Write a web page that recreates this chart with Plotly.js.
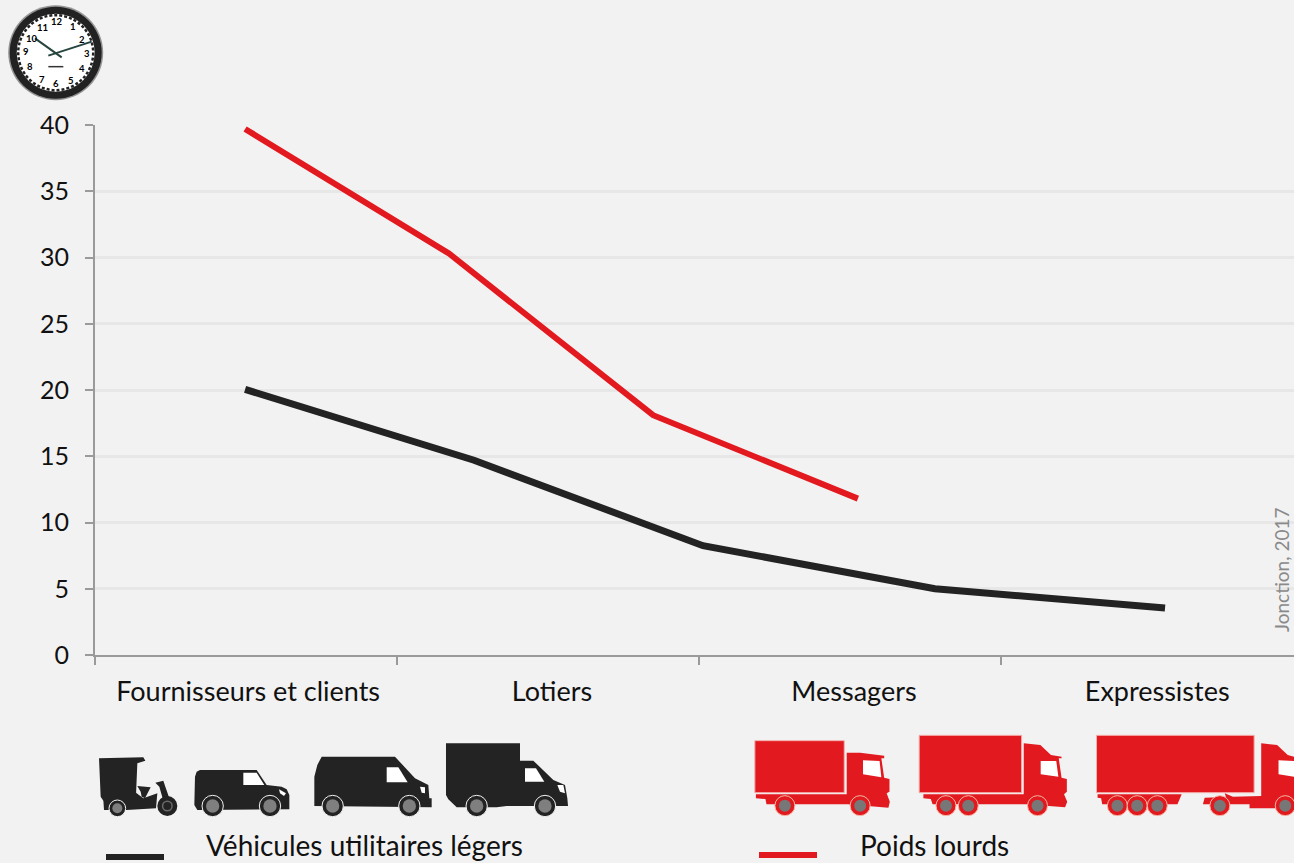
<!DOCTYPE html>
<html><head><meta charset="utf-8">
<script src="https://cdn.plot.ly/plotly-3.0.1.min.js"></script>
<style>html,body{margin:0;padding:0;background:#f2f2f2;overflow:hidden}#c{width:1294px;height:863px}</style>
</head><body><div id="c"></div>
<script>
// ---- data ----
const categories = ["Fournisseurs et clients", "Lotiers", "Messagers", "Expressistes"];
const categoryCentres = [0.507, 1.513, 2.513, 3.517];
const categoryBounds = [0, 1, 2, 3, 4];
const yTicks = [0, 5, 10, 15, 20, 25, 30, 35, 40];
const vulX = [0.497, 1.255, 2.013, 2.781, 3.543];
const vulY = [20.05, 14.7, 8.25, 5.0, 3.55];
const plX = [0.497, 1.172, 1.848, 2.526];
const plY = [39.7, 30.3, 18.1, 11.8];
const vulName = "Véhicules utilitaires légers";
const plName = "Poids lourds";
const sourceText = "Jonction, 2017";

// ---- page geometry helpers for decorative pictograms ----
const L = 95, R = 1294, T = 125, B = 655;
const px = x => (x - L) / (R - L);
const py = y => (B - y) / (B - T);
const BLACK = "#232323", RED = "#e2191f", BG = "#f2f2f2";
const shapes = [];
function poly(pts, ox, oy, sx, sy, fill, line) {
  const d = pts.map((p, i) => (i ? "L" : "M") + px(ox + p[0] / sx).toFixed(5) + "," + py(oy + p[1] / sy).toFixed(5)).join(" ") + " Z";
  shapes.push({type: "path", xref: "paper", yref: "paper", path: d, fillcolor: fill, line: line || {width: 0}, layer: "above"});
}
function circ(cx, cy, r, fill, line) {
  shapes.push({type: "circle", xref: "paper", yref: "paper", x0: px(cx - r), x1: px(cx + r), y0: py(cy + r), y1: py(cy - r), fillcolor: fill, line: line || {width: 0}, layer: "above"});
}
function seg(x0, y0, x1, y1, color, width) {
  shapes.push({type: "line", xref: "paper", yref: "paper", x0: px(x0), x1: px(x1), y0: py(y0), y1: py(y1), line: {color, width}, layer: "above"});
}

// light commercial vehicles
const o = [80, 730, 3, 3];
function bw(x, y, r1, r2) {
  circ(80 + x / 3, 730 + y / 3, r1 / 3, BLACK, {width: 1, color: BG});
  circ(80 + x / 3, 730 + y / 3, r2 / 3, "#7f7f7f");
}
poly([[57,85],[190,82],[196,92],[172,100],[168,195],[70,212],[62,200]], ...o, BLACK);
poly([[70,210],[168,188],[190,205],[232,190],[228,235],[140,240],[72,240]], ...o, BLACK);
poly([[172,168],[212,172],[205,185],[195,205],[185,200],[182,185]], ...o, BLACK);
poly([[226,158],[250,152],[256,170],[268,205],[250,212],[238,170]], ...o, BLACK);
bw(112, 235, 25, 15);
circ(80 + 262 / 3, 730 + 228 / 3, 10, BLACK);
circ(80 + 262 / 3, 730 + 228 / 3, 5.5, "#6a6a6a");
circ(80 + 262 / 3, 730 + 228 / 3, 4, BLACK);
poly([[345,140],[350,125],[360,120],[530,120],[560,165],[605,170],[620,178],[628,195],[628,238],[352,240],[343,225]], ...o, BLACK);
poly([[490,128],[530,128],[553,165],[490,165]], ...o, "#fff");
poly([[597,178],[618,190],[612,198],[600,190]], ...o, "#fff");
bw(398, 228, 32, 20); bw(570, 228, 32, 20);
poly([[703,140],[712,105],[725,80],[945,80],[1005,145],[1045,165],[1048,205],[1055,205],[1055,232],[703,228]], ...o, BLACK);
poly([[920,112],[955,112],[983,157],[920,157]], ...o, "#fff");
poly([[1020,170],[1035,172],[1035,190],[1025,188]], ...o, "#fff");
bw(758, 228, 32, 20); bw(988, 228, 32, 20);
poly([[1098,40],[1320,40],[1320,92],[1360,92],[1420,150],[1455,165],[1462,205],[1464,228],[1280,228],[1250,232],[1130,232],[1105,208],[1098,195]], ...o, BLACK);
poly([[1335,115],[1368,115],[1393,155],[1335,155]], ...o, "#fff");
poly([[1432,165],[1450,165],[1455,190],[1440,185]], ...o, "#fff");
bw(1190, 228, 32, 20); bw(1395, 228, 32, 20);

// heavy goods vehicles
const r = [740, 725, 2.83, 3];
const edge = {width: 1, color: "#f4b0ac"};
function rw(x) {
  const cx = 740 + x / 2.83, cy = 725 + 242 / 3;
  circ(cx, cy, 10, RED, {width: 1, color: "#f6b9a6"});
  circ(cx, cy, 6, "#777");
}
poly([[42,47],[295,47],[295,203],[42,203]], ...r, RED, edge);
poly([[302,83],[340,83],[408,92],[408,100],[400,100],[408,158],[423,162],[423,200],[415,205],[424,230],[420,248],[305,238],[75,238],[72,222],[45,220],[45,208],[302,208]], ...r, RED);
poly([[348,106],[395,108],[400,157],[348,148]], ...r, "#fff");
rw(127); rw(340);
poly([[507,31],[797,31],[797,203],[507,203]], ...r, RED, edge);
poly([[803,55],[850,60],[880,90],[910,95],[910,100],[902,100],[910,158],[925,162],[925,200],[917,208],[926,230],[920,247],[810,238],[545,238],[540,222],[519,220],[519,208],[803,208]], ...r, RED);
poly([[851,108],[895,108],[901,155],[851,148]], ...r, "#fff");
rw(583); rw(646); rw(842);
poly([[1009,31],[1455,31],[1455,203],[1009,203]], ...r, RED, edge);
poly([[1012,208],[1250,208],[1238,238],[1025,238],[1022,220],[1012,218]], ...r, RED);
poly([[1475,55],[1520,60],[1550,90],[1568,95],[1568,250],[1442,250],[1442,238],[1310,238],[1315,218],[1375,216],[1372,205],[1395,215],[1475,213]], ...r, RED);
poly([[1524,106],[1568,108],[1568,155],[1524,148]], ...r, "#fff");
rw(1068); rw(1124); rw(1181); rw(1358); rw(1543);

// legend keys
seg(106, 857, 164, 857, BLACK, 6);
seg(759, 855, 817, 855, RED, 6);

// clock
const ccx = 55.7, ccy = 52.7;
circ(ccx, ccy, 47.5, "rgba(30,30,30,0.45)");
circ(ccx, ccy, 46, "#222222");
circ(ccx, ccy, 39, "#ffffff");
circ(ccx, ccy, 37.5, "rgba(0,0,0,0)", {width: 2.5, color: "#222", dash: "3px,2px"});
seg(105/3, 115/3, 185/3, 172/3, "#27453f", 2);
seg(145/3, 167/3, 275/3, 125/3, "#27453f", 2);
seg(145/3, 200/3, 190/3, 200/3, "#333", 1.5);

const clockDigits = ["12","1","2","3","4","5","6","7","8","9","10","11"];
const clockX = [172,220,247,260,245,213,168,126,90,77,97,127];
const clockY = [65,80,117,160,205,242,250,237,200,155,115,82];
const annotations = clockDigits.map((t, i) => ({
  text: "<b>" + t + "</b>", xref: "paper", yref: "paper", x: px(clockX[i] / 3), y: py(clockY[i] / 3),
  showarrow: false, xanchor: "center", yanchor: "middle",
  font: {family: "Lato, sans-serif", size: 9.5, color: "#000"}
}));
annotations.push(
  {text: vulName, xref: "paper", yref: "paper", x: px(204), y: py(845), xanchor: "left", yanchor: "middle", showarrow: false,
   font: {family: "Lato, sans-serif", size: 28, color: "#111"}},
  {text: plName, xref: "paper", yref: "paper", x: px(858), y: py(845), xanchor: "left", yanchor: "middle", showarrow: false,
   font: {family: "Lato, sans-serif", size: 28, color: "#111"}},
  {text: sourceText, xref: "paper", yref: "paper", x: px(1281), y: py(570), xanchor: "center", yanchor: "middle", showarrow: false, textangle: -90,
   font: {family: "Lato, sans-serif", size: 19, color: "#8a8a8a"}}
);
// no gridline at the top of the axis
shapes.push({type: "line", xref: "paper", yref: "paper", x0: 0.002, x1: 1, y0: 1, y1: 1, line: {color: BG, width: 4}, layer: "below"});

const traces = [
  {x: vulX, y: vulY, type: "scatter", mode: "lines", name: vulName, line: {color: BLACK, width: 7}, hoverinfo: "y"},
  {x: plX, y: plY, type: "scatter", mode: "lines", name: plName, line: {color: RED, width: 6}, hoverinfo: "y"}
];
const layout = {
  width: 1294, height: 863, paper_bgcolor: BG, plot_bgcolor: BG, showlegend: false,
  margin: {l: L, r: 1294 - R, t: T, b: 863 - B},
  font: {family: "Lato, sans-serif", color: "#111", size: 25},
  xaxis: {
    range: [0, 3.97], tickmode: "array", tickvals: categoryCentres, ticktext: categories, ticks: "",
    ticklabelstandoff: 12, showgrid: false, zeroline: false, showline: true, linecolor: "#9a9a9a", linewidth: 2,
    tickfont: {size: 27, color: "#111"},
    minor: {tickmode: "array", tickvals: categoryBounds, ticks: "outside", ticklen: 8, tickwidth: 2, tickcolor: "#9a9a9a", showgrid: false}
  },
  yaxis: {
    range: [0, 40], tickmode: "array", tickvals: yTicks, ticks: "outside", ticklen: 8, tickwidth: 2, tickcolor: "#9a9a9a",
    ticklabelstandoff: 11, showgrid: true, gridcolor: "#e7e7e7", gridwidth: 3, zeroline: false, showline: true, linecolor: "#9a9a9a", linewidth: 2,
    tickfont: {size: 25, color: "#111"}
  },
  shapes, annotations
};
Plotly.newPlot("c", traces, layout, {displayModeBar: false, staticPlot: true});
</script></body></html>
